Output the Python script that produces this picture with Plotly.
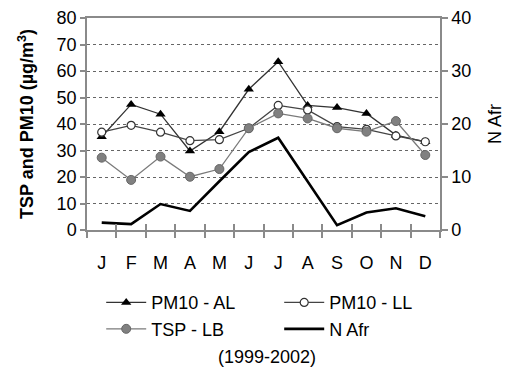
import plotly.graph_objects as go

months = ["J", "F", "M", "A", "M", "J", "J", "A", "S", "O", "N", "D"]
pm10_al = [35.2, 47.4, 43.7, 29.8, 37.1, 53.1, 63.5, 47.0, 46.2, 44.0, 35.8, 33.3]
pm10_ll = [36.9, 39.5, 36.9, 33.7, 34.1, 38.4, 47.0, 45.3, 39.0, 38.0, 35.5, 33.3]
tsp_lb = [27.3, 18.9, 27.7, 20.1, 23.0, 38.4, 44.0, 42.1, 38.4, 37.1, 41.1, 28.3]
n_afr = [1.4, 1.1, 4.9, 3.6, 9.2, 14.7, 17.4, 9.1, 0.9, 3.3, 4.1, 2.6]

idx = list(range(len(months)))
FONT = "Liberation Sans, Arial, sans-serif"
AX = "#8a8a8a"

fig = go.Figure()
fig.add_trace(go.Scatter(
    x=idx, y=pm10_al, name="PM10 - AL", mode="lines+markers",
    line=dict(color="#333333", width=1.3),
    marker=dict(symbol="triangle-up", size=9, color="black"),
))
fig.add_trace(go.Scatter(
    x=idx, y=pm10_ll, name="PM10 - LL", mode="lines+markers",
    line=dict(color="#444444", width=1.3),
    marker=dict(symbol="circle", size=8, color="white", line=dict(color="#333333", width=1.2)),
))
fig.add_trace(go.Scatter(
    x=idx, y=tsp_lb, name="TSP - LB", mode="lines+markers",
    line=dict(color="#7a7a7a", width=1.3),
    marker=dict(symbol="circle", size=9, color="#808080", line=dict(color="#666666", width=1)),
))
fig.add_trace(go.Scatter(
    x=idx, y=n_afr, name="N Afr", mode="lines",
    line=dict(color="black", width=2.6),
    xaxis="x2", yaxis="y2",
))

rng = [-0.5, len(months) - 0.5]
fig.update_layout(
    width=506, height=374,
    margin=dict(l=87, r=66, t=18, b=144, autoexpand=False),
    paper_bgcolor="white", plot_bgcolor="white",
    font=dict(family=FONT, size=18, color="black"),
    showlegend=True,
    legend=dict(
        orientation="h", xref="container", yref="container",
        x=0.2, y=0.24, xanchor="left", yanchor="top",
        entrywidth=123, entrywidthmode="pixels",
        font=dict(size=18), tracegroupgap=0, itemwidth=40,
        bgcolor="rgba(0,0,0,0)",
    ),
    xaxis=dict(
        range=rng, tickvals=idx, ticktext=months, ticks="",
        showline=True, linecolor=AX, linewidth=1.5, mirror=True,
        showgrid=False, zeroline=False, automargin=False,
        minor=dict(tick0=0.5, dtick=1, ticks="outside", ticklen=6, tickcolor=AX, tickwidth=1.5),
        tickfont=dict(size=18), ticklabelstandoff=16,
    ),
    xaxis2=dict(
        range=rng, overlaying="x", tick0=0.5, dtick=1, ticks="inside", ticklen=6,
        tickcolor=AX, tickwidth=1.5, showticklabels=False, showgrid=False,
        zeroline=False, showline=False, automargin=False,
    ),
    yaxis=dict(
        range=[0, 80], dtick=10, ticks="outside", ticklen=5, tickcolor=AX, tickwidth=1.5,
        showline=True, linecolor=AX, linewidth=1.5,
        showgrid=True, gridcolor="#666666", griddash="dot", gridwidth=1,
        zeroline=False, tickfont=dict(size=18), automargin=False,
        title=dict(text="<b>TSP and PM10 (µg/m<sup>3</sup>)</b>", font=dict(size=18), standoff=18),
    ),
    yaxis2=dict(
        range=[0, 40], dtick=10, overlaying="y", side="right", anchor="x2",
        ticks="outside", ticklen=6, tickcolor=AX, tickwidth=1.5,
        showline=True, linecolor=AX, linewidth=1.5, automargin=False,
        showgrid=False, zeroline=False, tickfont=dict(size=18),
        title=dict(text="N Afr", font=dict(size=18), standoff=18),
    ),
    annotations=[dict(
        text="(1999-2002)", x=0.51, y=-0.6, xref="paper", yref="paper",
        xanchor="center", yanchor="middle", showarrow=False, font=dict(size=18),
    )],
)

fig.write_html("out.html")
